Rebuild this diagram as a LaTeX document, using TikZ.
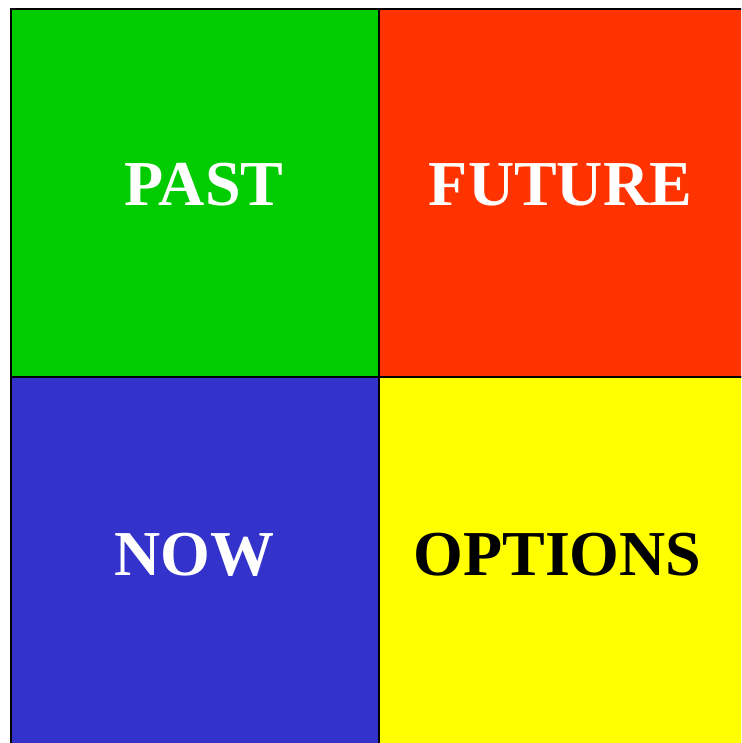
\documentclass[tikz,border=0pt]{standalone}
\usepackage{fontspec}
\setmainfont{Liberation Serif}
\definecolor{cgreen}{HTML}{00CC00}
\definecolor{cred}{HTML}{FF3300}
\definecolor{cblue}{HTML}{3333CC}
\definecolor{cyellow}{HTML}{FFFF00}
\begin{document}
\begin{tikzpicture}[x=1pt,y=-1pt,
  cell/.style={draw=black,line width=2pt},
  lbl/.style={anchor=base,inner sep=0pt,font=\fontsize{64}{64}\selectfont\bfseries}]
\useasboundingbox (0,0) rectangle (741,743);
\clip (0,0) rectangle (741,743);
\fill[white] (0,0) rectangle (741,743);
\filldraw[cell,fill=cgreen] (11,9) rectangle (379,376.5);
\filldraw[cell,fill=cred] (379,9) rectangle (747,376.5);
\filldraw[cell,fill=cblue] (11,376.5) rectangle (379,760);
\filldraw[cell,fill=cyellow] (379,376.5) rectangle (747,760);
\node[lbl,text=white] (past) at (204,206) {PAST};
\node[lbl,text=white] (future) at (560.5,206) {FUTURE};
\node[lbl,text=white] (now) at (194,575) {NOW};
\node[lbl,text=black] (options) at (557.5,575) {OPTIONS};
\end{tikzpicture}
\end{document}
